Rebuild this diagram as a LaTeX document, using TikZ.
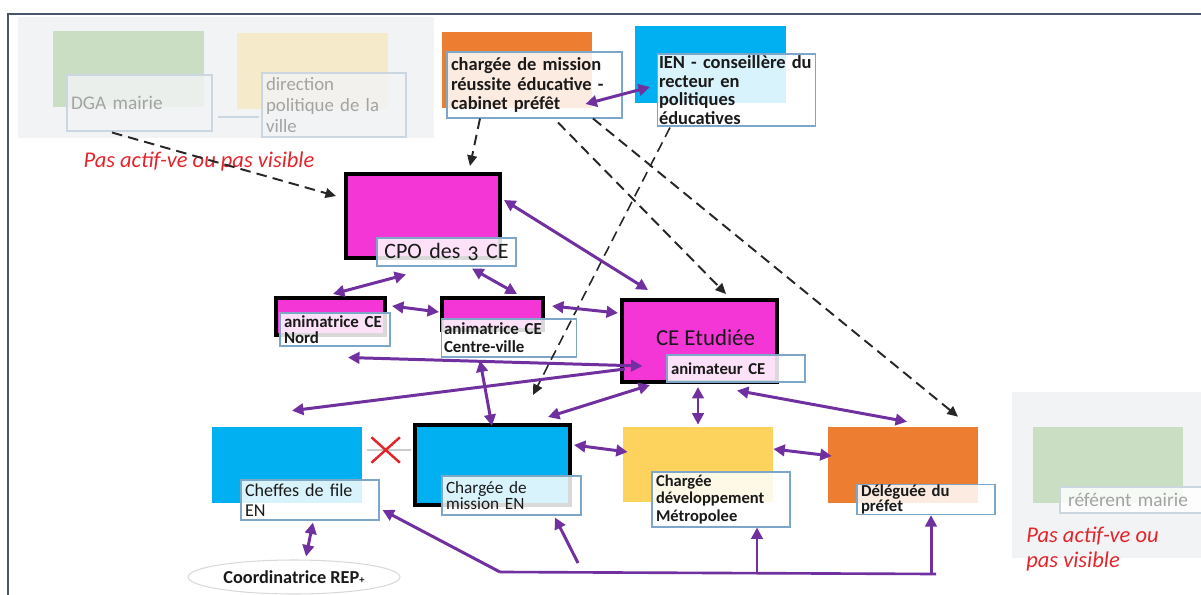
\documentclass[tikz,border=0pt]{standalone}
\usepackage{fontspec}
\setmainfont{Carlito}
\usetikzlibrary{arrows.meta,shapes.geometric,shapes.misc}

\definecolor{mag}{HTML}{F536D6}
\definecolor{enblue}{HTML}{00B0F0}
\definecolor{prefor}{HTML}{ED7D31}
\definecolor{metro}{HTML}{FDD35E}
\definecolor{palegreen}{HTML}{C9DEC2}
\definecolor{paleyellow}{HTML}{F5EAC9}
\definecolor{panelgrey}{HTML}{F2F3F4}
\definecolor{lblblue}{HTML}{7EA6C8}
\definecolor{palelbl}{HTML}{CBD6E0}
\definecolor{arrpurple}{HTML}{7030A0}
\definecolor{warnred}{HTML}{E3242B}
\definecolor{framecol}{HTML}{46566C}
\definecolor{fadetext}{HTML}{A3A3A3}
\definecolor{ink}{HTML}{1A1A1A}

\tikzset{
  fillbox/.style={inner sep=0pt},
  hibox/.style={fillbox,draw=black,line width=2.3pt},
  lbl/.style={draw=lblblue,line width=0.6pt,fill=white,fill opacity=.85,text opacity=1,
    inner xsep=0.8mm,inner ysep=0pt,align=left,text=ink},
  fadelbl/.style={lbl,draw=palelbl,fill=panelgrey,text=fadetext},
  warn/.style={text=warnred,font=\fontsize{12.8}{14.2}\selectfont\itshape,inner sep=0pt,align=left},
  parr/.style={draw=arrpurple,line width=1.7pt,<->},
  parr1/.style={draw=arrpurple,line width=1.7pt,->},
  darr/.style={draw=black!85,line width=1.1pt,dash pattern=on 6pt off 3.5pt,
    -{Triangle[length=6pt,width=5.5pt]}},
}

\begin{document}
\begin{tikzpicture}[x=0.02cm,y=-0.02cm,>={Triangle[length=6.5pt,width=6.5pt]}]
  \useasboundingbox (0,0) rectangle (1201,595);
  \draw[framecol,line width=1.2pt] (8,595) -- (8,14) -- (1201,14);

  % inactive partners
  \fill[panelgrey] (18,17) rectangle (434,138);
  \fill[panelgrey] (1012,392) rectangle (1201,558);
  \node[fillbox,fill=palegreen,minimum width=30.2mm,minimum height=15.2mm] (dga) at (128.5,69) {};
  \node[fillbox,fill=paleyellow,minimum width=30.2mm,minimum height=15.2mm] (dir) at (312.5,71) {};
  \node[fillbox,fill=palegreen,minimum width=30mm,minimum height=15.2mm] (ref) at (1108,465) {};
  \node[fadelbl,text width=27.4mm,minimum height=11.2mm,font=\fontsize{11}{12}\selectfont] (dgal) at (139.5,103) {DGA mairie};
  \node[fadelbl,text width=27.2mm,minimum height=12.8mm,font=\fontsize{10.7}{12}\selectfont] (dirl) at (334,105) {direction\\politique de la\\ville};
  \node[fadelbl,fill=white,text width=26mm,minimum height=5.2mm,inner xsep=1.6mm,font=\fontsize{11}{12}\selectfont] (refl) at (1133,500) {référent mairie};
  \draw[palelbl,line width=0.8pt] ([shift={(5,14)}]dgal.east) -- ([shift={(-2,12)}]dirl.west);
  \node[warn] (inact1) at (199,162) {Pas actif-ve ou pas visible};
  \node[warn,anchor=west] (inact2) at (1026,549) {Pas actif-ve ou\\pas visible};

  % coloured boxes
  \node[fillbox,fill=prefor,minimum width=30mm,minimum height=15.2mm] (chg) at (517,70) {};
  \node[fillbox,fill=enblue,minimum width=30.2mm,minimum height=15.4mm] (ien) at (710.5,64.5) {};
  \node[hibox,fill=mag,minimum width=30.8mm,minimum height=16.8mm] (cpo) at (423,216) {};
  \node[hibox,fill=mag,minimum width=21.8mm,minimum height=7.4mm] (nord) at (330.5,316.5) {};
  \node[hibox,fill=mag,minimum width=20.2mm,minimum height=6.4mm] (ctr) at (492.5,314) {};
  \node[hibox,fill=mag,minimum width=31mm,minimum height=16.4mm,text=ink,
    font=\fontsize{13}{14}\selectfont] (ce) at (699.5,341) {\raisebox{1.2mm}{\hspace*{2.4mm}CE Etudiée}};
  \node[fillbox,fill=enblue,minimum width=30mm,minimum height=15.2mm] (chf) at (287,465) {};
  \node[hibox,fill=enblue,minimum width=31mm,minimum height=16mm] (cen) at (492.5,465) {};
  \node[fillbox,fill=metro,minimum width=30mm,minimum height=15mm] (dev) at (698,464.5) {};
  \node[fillbox,fill=prefor,minimum width=30mm,minimum height=15.2mm] (del) at (903,465) {};

  % labels
  \node[lbl,text width=33.4mm,minimum height=13.2mm,font=\fontsize{10.5}{11.3}\selectfont\bfseries] (chgl) at (534.5,85)
    {chargée de mission\\réussite éducative -\\cabinet préfêt};
  \node[lbl,text width=31mm,minimum height=14.4mm,inner xsep=0.3mm,font=\fontsize{10.5}{10.6}\selectfont\bfseries] (ienl) at (736.5,90)
    {IEN - conseillère du\\recteur en\\politiques\\éducatives};
  \node[lbl,text width=26.2mm,minimum height=5.6mm,align=center,font=\fontsize{12.5}{13}\selectfont] (cpol) at (446.5,252)
    {CPO des {\addfontfeatures{Numbers=OldStyle}3} CE};
  \node[lbl,text width=20.4mm,minimum height=6.6mm,font=\fontsize{9.6}{9.3}\selectfont\bfseries] (nordl) at (335,329.5)
    {animatrice CE\\Nord};
  \node[lbl,text width=26mm,minimum height=7.6mm,inner xsep=0.5mm,font=\fontsize{9.6}{10.2}\selectfont\bfseries] (ctrl) at (509,338)
    {animatrice CE\\Centre-ville};
  \node[lbl,text width=26mm,minimum height=5.4mm,font=\fontsize{9.5}{10}\selectfont\bfseries] (cel) at (736,368.5)
    {animateur CE};
  \node[lbl,text width=26mm,minimum height=8mm,font=\fontsize{10.3}{11.3}\selectfont] (chfl) at (310,500)
    {Cheffes de file\\EN};
  \node[lbl,text width=26.2mm,minimum height=7.8mm,font=\fontsize{9.8}{9.2}\selectfont] (cenl) at (511.5,495.5)
    {Chargée de\\mission EN};
  \node[lbl,text width=26mm,minimum height=11mm,font=\fontsize{9.4}{10}\selectfont\bfseries] (devl) at (721,499.5)
    {Chargée\\développement\\Métropolee};
  \node[lbl,text width=26mm,minimum height=5.4mm,font=\fontsize{9.5}{9}\selectfont\bfseries] (dell) at (926,499.5)
    {Déléguée du\\préfet};
  \node[ellipse,draw=gray!30,line width=0.6pt,minimum width=42.4mm,minimum height=6.8mm,inner sep=0pt,
    text=ink,font=\fontsize{10.4}{11}\selectfont\bfseries] (coord) at (294,577)
    {Coordinatrice REP{\fontsize{6}{6}\selectfont +}};

  % broken link
  \draw[gray!40,line width=0.8pt] ([shift={(5,-15)}]chf.east) --
    node[cross out,draw=warnred,line width=1.4pt,minimum width=5.2mm,minimum height=4.6mm,inner sep=0pt,pos=0.42] (nolink) {}
    ([shift={(-2,-15)}]cen.west);

  % dashed links
  \draw[darr] ([shift={(-27.5,1)}]dgal.south) -- ([shift={(-8,-20)}]cpo.west);
  \draw[darr] ([shift={(-54.5,0)}]chgl.south) -- ([shift={(47,-6)}]cpo.north);
  \draw[darr] ([shift={(23.5,4)}]chgl.south) -- ([shift={(26.5,-4)}]ce.north);
  \draw[darr] ([shift={(58.5,0)}]chgl.south) -- ([shift={(55,-10)}]del.north);
  \draw[darr,line width=0.9pt] ([shift={(-66.5,1)}]ienl.south) -- ([shift={(40.5,-28)}]cen.north);

  % purple links
  \draw[parr] ([shift={(-37,19)}]chgl.east) -- ([shift={(-7,-3)}]ienl.west);
  \draw[parr] ([shift={(-40.5,8)}]cpol.south) -- ([shift={(2.5,-2)}]nord.north);
  \draw[parr] ([shift={(25.5,2)}]cpol.south) -- ([shift={(24.5,-2)}]ctr.north);
  \draw[parr] ([shift={(2,-16)}]cpo.east) -- ([shift={(-51.5,-8)}]ce.north);
  \draw[parr] ([shift={(5,-10.5)}]nord.east) -- ([shift={(-1,-2)}]ctr.west);
  \draw[parr] ([shift={(7,-8)}]ctr.east) -- ([shift={(-2,-28)}]ce.west);
  \draw[parr] ([shift={(13,11)}]nordl.south) -- ([shift={(-24,-2.5)}]cel.west);
  \draw[parr1] ([shift={(5,28)}]ce.west) -- ([shift={(5,-16)}]chf.north);
  \draw[parr] ([shift={(-29,3)}]ctrl.south) -- ([shift={(-0.5,3)}]cen.north);
  \draw[parr] ([shift={(55.5,-6)}]cen.north) -- ([shift={(-49.5,1)}]ce.south);
  \draw[parr] ([shift={(2,-20)}]cen.east) -- ([shift={(5,-12.5)}]dev.west);
  \draw[parr] ([shift={(-1.5,3)}]ce.south) -- ([shift={(0,-2)}]dev.north);
  \draw[parr] ([shift={(1,8)}]cel.south) -- ([shift={(4,-5)}]del.north);
  \draw[parr] ([shift={(0,-15.5)}]dev.east) -- ([shift={(4,-9)}]del.west);
  \draw[parr] ([shift={(3,2)}]chfl.south) -- ([shift={(12,-3)}]coord.north);

  % bottom line
  \coordinate (busL) at (500,572);
  \coordinate (busR) at (936,574);
  \coordinate (tailEN) at (578,563);
  \coordinate (tailDev) at (757,573);
  \coordinate (tailDel) at (931,574);
  \draw[arrpurple,line width=1.5pt] (busL) -- (busR);
  \draw[parr1] (busL) -- ([shift={(3,10)}]chfl.east);
  \draw[parr1] (tailEN) -- ([shift={(43.5,2)}]cenl.south);
  \draw[parr1] (tailDev) -- (tailDev |- devl.south);
  \draw[parr1] (tailDel) -- (tailDel |- dell.south);
\end{tikzpicture}
\end{document}
